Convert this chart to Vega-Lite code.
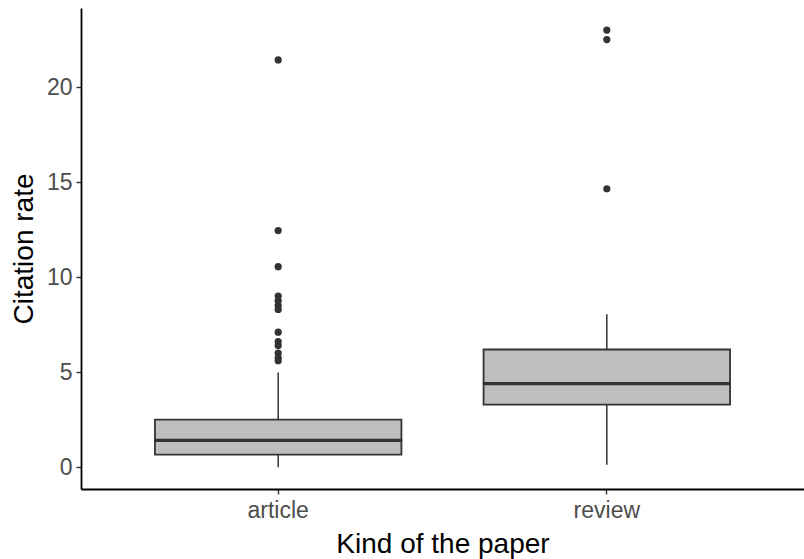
{
  "$schema": "https://vega.github.io/schema/vega-lite/v6.json",
  "width": 723,
  "height": 481,
  "autosize": {"type": "none"},
  "padding": {"left": 81, "top": 8, "right": 0, "bottom": 70},
  "config": {
    "view": {"stroke": null},
    "font": "Liberation Sans",
    "axis": {
      "grid": false,
      "domainColor": "#000000",
      "domainWidth": 1.8,
      "tickColor": "#333333",
      "tickWidth": 1.4,
      "tickSize": 5,
      "labelColor": "#4d4d4d",
      "labelFontSize": 23,
      "titleColor": "#000000",
      "titleFontSize": 28,
      "titleFontWeight": "normal",
      "labelFont": "Liberation Sans",
      "titleFont": "Liberation Sans"
    }
  },
  "datasets": {
    "boxes": [
      {"kind": "article", "lower": 0.0, "q1": 0.66, "median": 1.41, "q3": 2.5, "upper": 4.98},
      {"kind": "review", "lower": 0.13, "q1": 3.29, "median": 4.39, "q3": 6.19, "upper": 8.04}
    ],
    "outliers": [
      {"kind": "article", "rate": 21.43},
      {"kind": "article", "rate": 12.45},
      {"kind": "article", "rate": 10.55},
      {"kind": "article", "rate": 9.0},
      {"kind": "article", "rate": 8.75},
      {"kind": "article", "rate": 8.5},
      {"kind": "article", "rate": 8.3},
      {"kind": "article", "rate": 7.1},
      {"kind": "article", "rate": 6.6},
      {"kind": "article", "rate": 6.4},
      {"kind": "article", "rate": 6.0},
      {"kind": "article", "rate": 5.75},
      {"kind": "article", "rate": 5.6},
      {"kind": "review", "rate": 23.0},
      {"kind": "review", "rate": 22.5},
      {"kind": "review", "rate": 14.65}
    ]
  },
  "encoding": {
    "x": {
      "field": "kind",
      "type": "nominal",
      "scale": {"type": "band", "paddingInner": 0.25, "paddingOuter": 0.225, "domain": ["article", "review"]},
      "axis": {"title": "Kind of the paper", "labelAngle": 0, "labelPadding": 5, "titlePadding": 8}
    }
  },
  "layer": [
    {
      "data": {"name": "boxes"},
      "mark": {"type": "rule", "color": "#333333", "strokeWidth": 1.5},
      "encoding": {
        "y": {"field": "lower", "type": "quantitative", "scale": {"domain": [-1.15, 24.16], "nice": false, "zero": false},
          "axis": {"title": "Citation rate", "values": [0, 5, 10, 15, 20], "labelPadding": 4, "titlePadding": 8}},
        "y2": {"field": "q1"}
      }
    },
    {
      "data": {"name": "boxes"},
      "mark": {"type": "rule", "color": "#333333", "strokeWidth": 1.5},
      "encoding": {
        "y": {"field": "q3", "type": "quantitative"},
        "y2": {"field": "upper"}
      }
    },
    {
      "data": {"name": "boxes"},
      "mark": {"type": "bar", "fill": "#bebebe", "stroke": "#333333", "strokeWidth": 1.8},
      "encoding": {
        "y": {"field": "q1", "type": "quantitative"},
        "y2": {"field": "q3"}
      }
    },
    {
      "data": {"name": "boxes"},
      "mark": {"type": "tick", "color": "#333333", "size": 248, "thickness": 3.2, "opacity": 1},
      "encoding": {
        "y": {"field": "median", "type": "quantitative"}
      }
    },
    {
      "data": {"name": "outliers"},
      "mark": {"type": "point", "filled": true, "color": "#333333", "size": 52, "opacity": 1},
      "encoding": {
        "y": {"field": "rate", "type": "quantitative"}
      }
    }
  ]
}
